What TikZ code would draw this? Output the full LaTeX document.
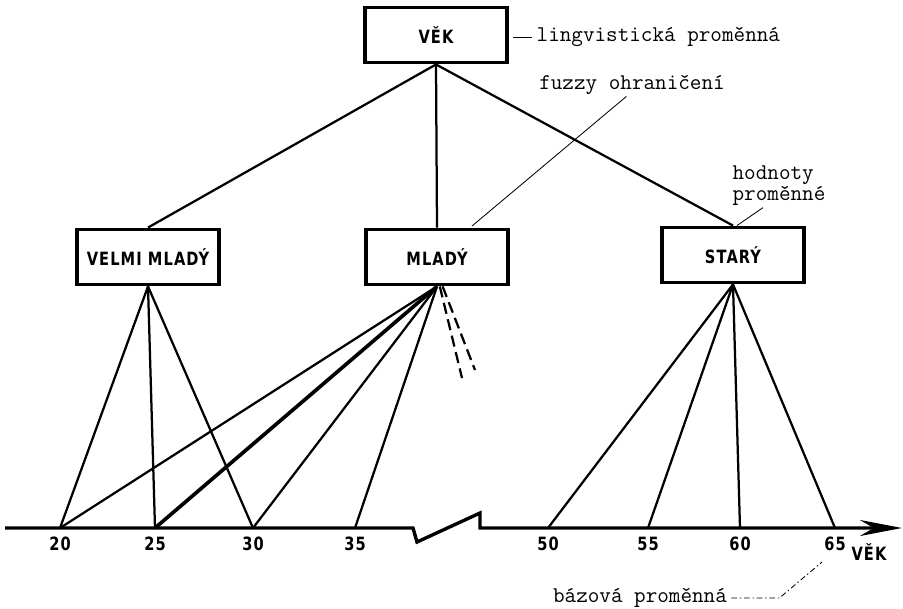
\documentclass[tikz,border=0pt]{standalone}
\usepackage{fontspec}
\usepackage{tikz}
\usetikzlibrary{arrows.meta,positioning}
\newfontfamily\labelfont{DejaVu Sans}[FakeStretch=0.8,LetterSpace=6]
\tikzset{%
	valuebox/.style  = {draw, rectangle, line width=2.6pt, minimum width=3.55cm, minimum height=1.38cm, text centered, font={\labelfont\bfseries\fontsize{13pt}{15pt}\selectfont}},
	edge/.style      = {line width=1.6pt},
	heavyedge/.style = {line width=2.6pt},
	fuzzyedge/.style = {line width=1.6pt, dash pattern=on 8pt off 4pt},
	note/.style      = {font={\ttfamily\fontsize{16pt}{15pt}\selectfont}, inner sep=1pt},
	leader/.style    = {line width=0.6pt},
	ticklabel/.style = {inner sep=1pt, font={\labelfont\bfseries\fontsize{13pt}{15pt}\selectfont}},
	axisline/.style  = {line width=2.4pt, -{Stealth[length=1.05cm, width=0.4cm]}},
}

\begin{document}
\begin{tikzpicture}[x=0.025cm, y=-0.025cm]
	\useasboundingbox (0,0) rectangle (903,608);
	
	\node[valuebox] (vek) at (436,35) {VĚK};
	\node[valuebox] (velmi) at (148,257) {VELMI MLADÝ};
	\node[valuebox] (mlady) at (437,257) {MLADÝ};
	\node[valuebox] (stary) at (733,255) {STARÝ};
	
	\foreach \b in {velmi,mlady,stary} \draw[edge] (vek.south) -- (\b.north);
	
	% base variable
	\draw[axisline] (5,528) -- (413,528) -- (417,542) -- (480,513) -- (480,528) -- (902,528);
	\foreach \v/\x in {20/60,25/155,30/253,35/355,50/548,55/648,60/740,65/835} {
		\coordinate (t\v) at (\x,528);
		\node[ticklabel] (n\v) at (\x,544) {\v};
	}
	\node[ticklabel] (osa) at (869,552) {VĚK};
	
	\foreach \t in {20,25,30} \draw[edge] (velmi.south) -- (t\t);
	\foreach \t in {20,30,35} \draw[edge] (mlady.south) -- (t\t);
	\draw[heavyedge] (mlady.south) -- (t25);
	\foreach \t in {50,55,60,65} \draw[edge] (stary.south) -- (t\t);
	
	\coordinate (d1) at (462,378);
	\coordinate (d2) at (475,370);
	\draw[fuzzyedge] ([xshift=2pt]mlady.south) -- (d1);
	\draw[fuzzyedge] ([xshift=4pt]mlady.south) -- (d2);
	
	% notes
	\node[note, anchor=west] (ling) at (535,37) {lingvistická proměnná};
	\draw[leader] ([xshift=-2pt]ling.west) -- ++(-19,0);
	
	\node[note] (fuzzy) at (632,85) {fuzzy ohraničení};
	\coordinate (fz) at (472,226);
	\draw[leader] ([xshift=-4pt]fuzzy.south) -- (fz);
	
	\node[note, align=left] (hodn) at (779,186) {hodnoty\\proměnné};
	\draw[leader] ([xshift=-0.4cm]hodn.south) -- ([xshift=0.1cm]stary.north);
	
	\node[note] (baze) at (640,598) {bázová proměnná};
	\coordinate (bz) at (822,562);
	\draw[leader, dash pattern=on 4pt off 2pt on 1pt off 2pt] ([xshift=2pt]baze.east) -- ++(48,0) -- (bz);
\end{tikzpicture}
\end{document}
